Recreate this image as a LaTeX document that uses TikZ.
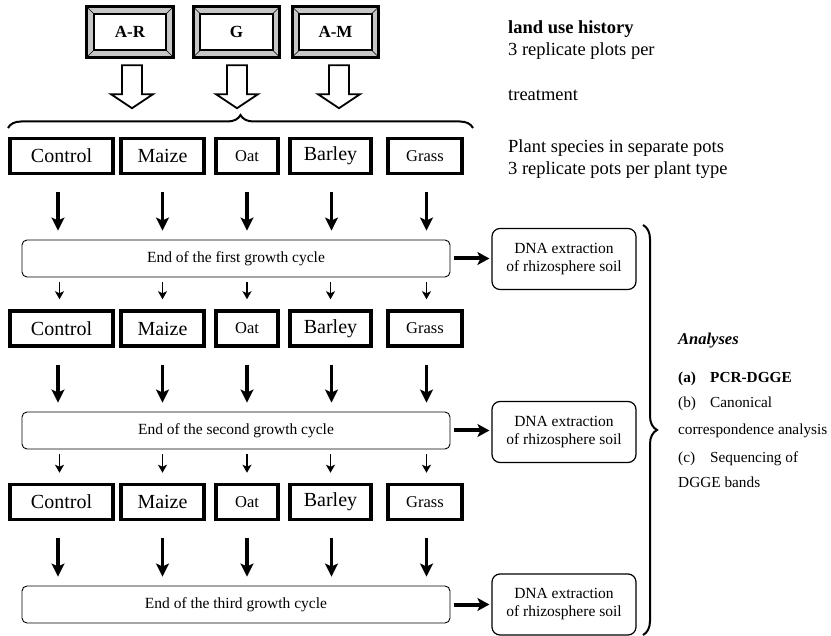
\documentclass[tikz,border=0pt]{standalone}
\usepackage{fontspec}
\setmainfont{Liberation Serif}
\usetikzlibrary{arrows.meta,decorations.pathreplacing,backgrounds,calc}
\begin{document}
\begin{tikzpicture}[x=1pt,y=-1pt,
 plant/.style={draw,line width=3.5pt,minimum height=35pt,inner sep=0pt,font=\fontsize{20}{24}\selectfont},
 plantsm/.style={plant,font=\fontsize{16.5}{20}\selectfont},
 cyc/.style={draw,line width=0.9pt,rounded corners=5pt,minimum width=428pt,minimum height=37pt,inner sep=0pt,font=\fontsize{15.5}{18}\selectfont},
 dna/.style={draw,line width=1.2pt,rounded corners=8pt,minimum width=144pt,minimum height=61pt,inner sep=0pt,align=center,font=\fontsize{15.5}{18}\selectfont},
 bigarr/.style={line width=3.5pt,-{Stealth[length=13pt,width=13pt,inset=3pt]}},
 smallarr/.style={line width=1.8pt,-{Stealth[length=8pt,width=9pt,inset=2pt]}},
 sidearr/.style={line width=4pt,-{Stealth[length=12pt,width=13pt,inset=3pt]}},
 land/.style={minimum width=86pt,minimum height=50pt,inner sep=0pt,font=\bfseries\fontsize{17}{20}\selectfont},
 note/.style={anchor=base west,inner sep=0pt,font=\fontsize{18.5}{22}\selectfont},
 ana/.style={anchor=base west,inner sep=0pt,font=\fontsize{15.3}{18}\selectfont},
 bracestyle/.style={line width=2pt,decorate},
]
\useasboundingbox (0,0) rectangle (831,636);

% land use boxes
\node[land] (ar) at (130,32) {A-R};
\node[land] (g)  at (236.5,32) {G};
\node[land] (am) at (335.5,32) {A-M};
\begin{pgfonlayer}{background}
\foreach \n in {ar,g,am}{
  \draw[line width=3pt,fill=gray!45] (\n.north west) rectangle (\n.south east);
  \draw[line width=0.6pt] (\n.north west) -- ++(7,7) (\n.north east) -- ++(-7,7)
        (\n.south west) -- ++(7,-7) (\n.south east) -- ++(-7,-7);
  \draw[line width=2pt,fill=white] ($(\n.north west)+(7,7)$) rectangle ($(\n.south east)+(-7,-7)$);
}
\end{pgfonlayer}

% hollow arrows
\foreach \n/\dx in {ar/2,g/0.5,am/3.5}{
  \draw[line width=1.8pt,fill=white,line join=miter] ($(\n.south)+(\dx-10,8)$) -- ++(0,29) -- ++(-11,0) -- ++(21,14) -- ++(21,-14) -- ++(-11,0) -- ++(0,-29) -- cycle;
}

% top brace
\coordinate (bl) at (8,128);
\coordinate (br) at (473,128);
\draw[bracestyle,decoration={brace,amplitude=13pt}] (bl) -- (br);

% notes
\node[note,font=\bfseries\fontsize{18.5}{22}\selectfont] (t1) at (508,34) {land use history};
\node[note] (t2) at (508,56) {3 replicate plots per};
\node[note] (t3) at (508,101) {treatment};
\node[note] (t4) at (508,153) {Plant species in separate pots};
\node[note] (t5) at (508,175) {3 replicate pots per plant type};

% plant rows
\foreach \r/\y in {1/156,2/328.5,3/502}{
  \node[plant,minimum width=103pt] (con\r) at (61.5,\y) {Control};
  \node[plant,minimum width=83pt] (mai\r) at (162.5,\y) {Maize};
  \node[plantsm,minimum width=62pt] (oat\r) at (247,\y) {Oat};
  \node[plant,minimum width=81pt] (bar\r) at (330.5,\y) {Barley};
  \node[plantsm,minimum width=74pt] (gra\r) at (425,\y) {Grass};
}

% cycle boxes
\node[cyc] (cyc1) at (236,258.5) {End of the first growth cycle};
\node[cyc] (cyc2) at (236,430.5) {End of the second growth cycle};
\node[cyc] (cyc3) at (236,604.5) {End of the third growth cycle};

% DNA boxes
\node[dna] (dna1) at (564,259) {DNA extraction\\of rhizosphere soil};
\node[dna] (dna2) at (564,432) {DNA extraction\\of rhizosphere soil};
\node[dna] (dna3) at (564,604.5) {DNA extraction\\of rhizosphere soil};

% arrows rows -> cycles
\foreach \r in {1,2,3}{
  \foreach \p/\dx in {con/-3.5,mai/0,oat/0,bar/1,gra/1.5}{
    \draw[bigarr] ($(\p\r.south)+(\dx,17)$) -- ($(\p\r.south |- cyc\r.north)+(\dx,-9)$);
  }
  \draw[sidearr] ($(cyc\r.east)+(4,0)$) -- ($(cyc\r.east -| dna\r.west)+(-2,0)$);
}
% arrows cycles -> next rows
\foreach \r/\n in {1/2,2/3}{
  \foreach \p/\dx in {con/-2,mai/0,oat/0,bar/0,gra/1.5}{
    \draw[smallarr] ($(\p\n.north |- cyc\r.south)+(\dx,5)$) -- ($(\p\n.north)+(\dx,-10)$);
  }
}

% right brace
\coordinate (rt) at (643,225);
\coordinate (rb) at (643,635);
\draw[bracestyle,decoration={brace,amplitude=14pt}] (rt) -- (rb);

% analyses
\node[ana,font=\bfseries\itshape\fontsize{16.5}{20}\selectfont] (a0) at (678,345) {Analyses};
\node[ana,font=\bfseries\fontsize{15.3}{18}\selectfont] (a1) at (678,383) {\makebox[32pt][l]{(a)}PCR-DGGE};
\node[ana] (a2) at (678,408) {\makebox[32pt][l]{(b)}Canonical};
\node[ana] (a3) at (678,435) {correspondence analysis};
\node[ana] (a4) at (678,463) {\makebox[32pt][l]{(c)}Sequencing of};
\node[ana] (a5) at (678,488) {DGGE bands};
\end{tikzpicture}
\end{document}
